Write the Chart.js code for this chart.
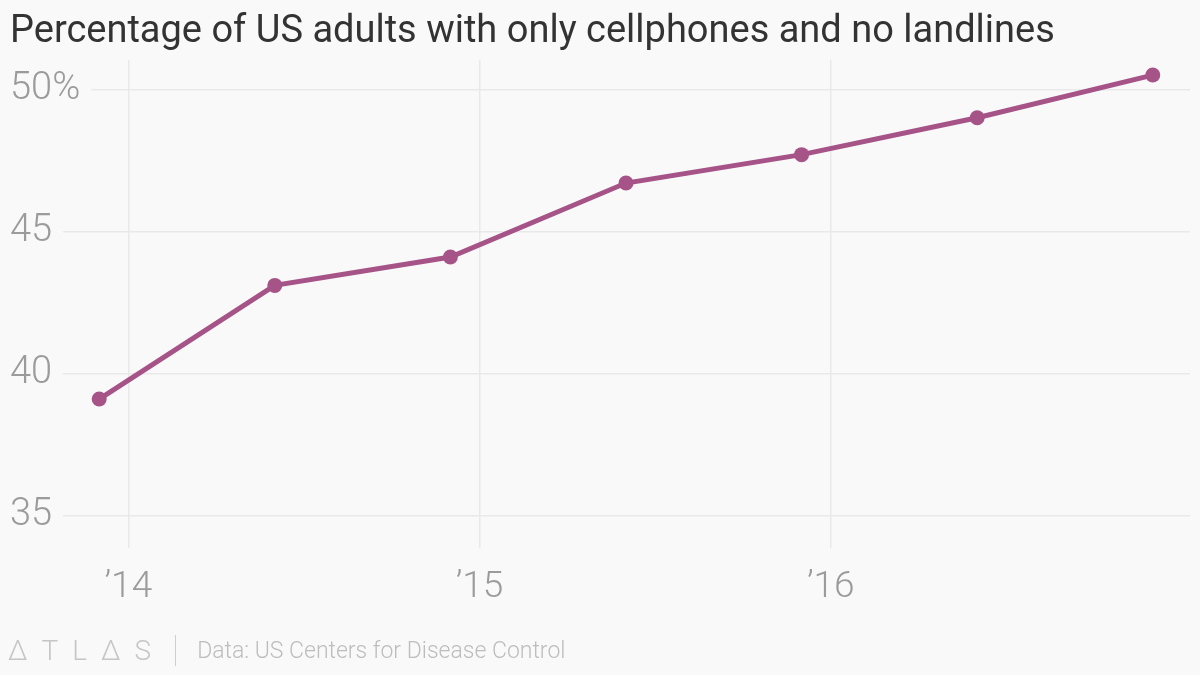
<!DOCTYPE html>
<html>
<head>
<meta charset="utf-8">
<script src="https://cdn.jsdelivr.net/npm/chart.js@4.4.1/dist/chart.umd.min.js"></script>
<style>
  html, body { margin: 0; padding: 0; background: #f9f9f9; }
  #wrap { position: relative; width: 1200px; height: 675px; }
  #footer {
    position: absolute; left: 8px; top: 634px;
    font-family: Roboto, sans-serif; color: #c6c6c6; white-space: nowrap;
  }
  #footer .logo { font-size: 28px; font-weight: 300; letter-spacing: 14px; vertical-align: middle; }
  #footer .sep { display: inline-block; width: 1px; height: 31px; background: #cfcfcf; vertical-align: middle; margin: 0 21px 0 10px; }
  #footer .src { font-size: 23px; font-weight: 300; vertical-align: middle; color: #bdbdbd; }
</style>
</head>
<body>
<div id="wrap">
  <canvas id="myChart" width="1200" height="675"></canvas>
  <div id="footer"><span class="logo">ΔTLΔS</span><span class="sep"></span><span class="src">Data: US Centers for Disease Control</span></div>
</div>
<script>
// half-year survey periods, plotted at decimal year
var periods = [2013.917, 2014.417, 2014.917, 2015.417, 2015.917, 2016.417, 2016.917];
var cellOnly = [39.1, 43.1, 44.1, 46.7, 47.7, 49.0, 50.5];
var yearTicks = [2014, 2015, 2016];
var pctTicks = [35, 40, 45, 50];

var points = [];
periods.forEach(function(p, i) {
    points.push({ x: p, y: cellOnly[i] });
});

var purple = '#a65388';
var grey = '#9b9b9b';
var gridColor = '#e9e9e9';

const ctx = document.getElementById('myChart').getContext('2d');
const myChart = new Chart(ctx, {
    type: 'line',
    data: {
        datasets: [{
            label: 'Cellphone only',
            data: points,
            borderColor: purple,
            backgroundColor: purple,
            borderWidth: 5,
            pointRadius: 7.5,
            pointBorderWidth: 0,
            pointBackgroundColor: purple,
            tension: 0,
            clip: false
        }]
    },
    options: {
        responsive: false,
        animation: false,
        layout: { padding: { left: 10, right: 10, top: 0, bottom: 0 } },
        plugins: {
            legend: { display: false },
            tooltip: { enabled: false },
            title: {
                display: true,
                text: 'Percentage of US adults with only cellphones and no landlines',
                align: 'start',
                color: '#333333',
                font: { family: 'Roboto', size: 38, weight: 'normal' },
                padding: { top: 10, bottom: 4.4 }
            }
        },
        scales: {
            x: {
                type: 'linear',
                min: 2013.663,
                max: 2017.023,
                afterBuildTicks: function(scale) {
                    scale.ticks = yearTicks.map(function(v) { return { value: v }; });
                },
                afterFit: function(scale) { scale.height = 127; },
                ticks: {
                    color: grey,
                    font: { family: 'Roboto', size: 37, weight: 300 },
                    padding: 18,
                    maxRotation: 0,
                    callback: function(v) { return '\u2019' + String(v).slice(2); }
                },
                grid: { color: gridColor, lineWidth: 1.5, drawTicks: false },
                border: { display: false }
            },
            y: {
                min: 33.86,
                max: 51.03,
                afterBuildTicks: function(scale) {
                    scale.ticks = pctTicks.map(function(v) { return { value: v }; });
                },
                afterFit: function(scale) { scale.width = 0; },
                ticks: {
                    mirror: true,
                    padding: 0,
                    color: grey,
                    font: { family: 'Roboto', size: 38, weight: 300 },
                    showLabelBackdrop: true,
                    backdropColor: '#f9f9f9',
                    backdropPadding: { top: 2, bottom: 2, left: 2, right: 11 },
                    callback: function(v) { return v === 50 ? v + '%' : v; }
                },
                grid: { color: gridColor, lineWidth: 1.5, drawTicks: false },
                border: { display: false }
            }
        }
    }
});
</script>
</body>
</html>
